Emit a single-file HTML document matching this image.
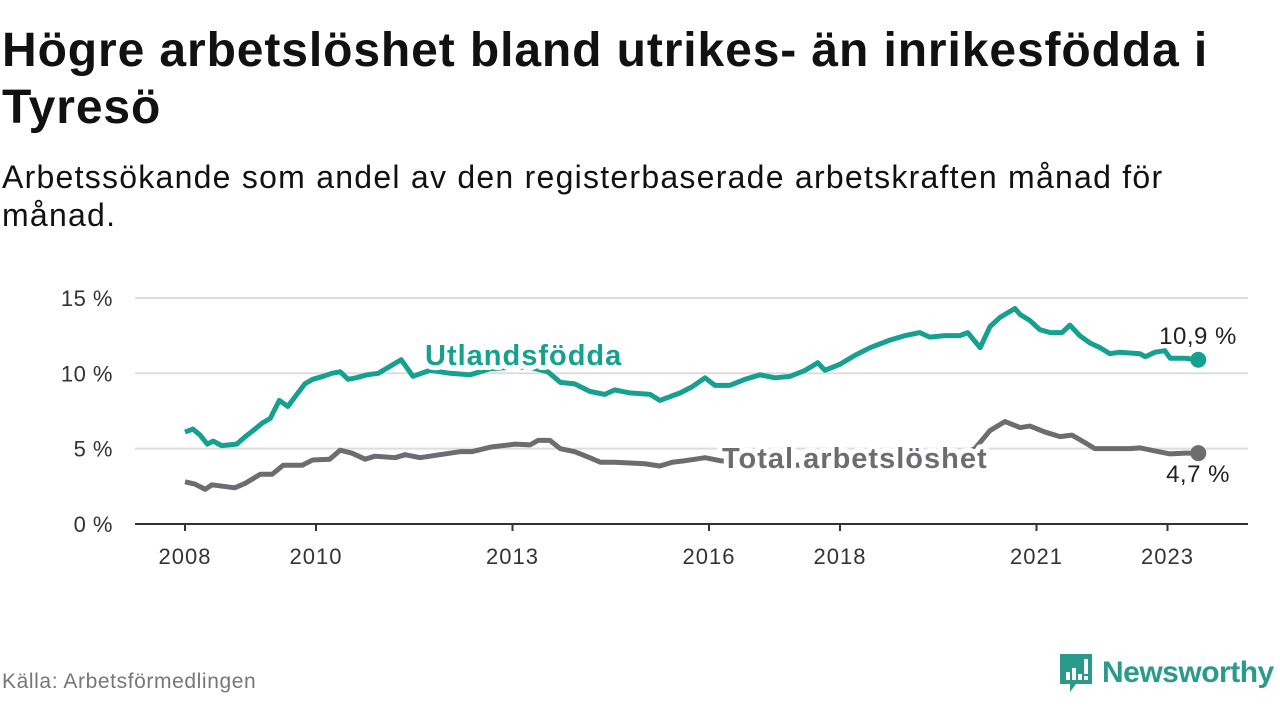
<!DOCTYPE html>
<html><head><meta charset="utf-8"><style>
body{margin:0;background:#fff;width:1280px;height:720px;overflow:hidden;font-family:"Liberation Sans",sans-serif}
.title{position:absolute;left:2px;top:22px;font-size:48px;font-weight:bold;color:#111;line-height:57px;width:1280px;white-space:nowrap;letter-spacing:0.9px}
.sub{position:absolute;left:2px;top:158px;font-size:32px;color:#111;line-height:38px;width:1280px;white-space:nowrap;letter-spacing:1.25px}
.src{position:absolute;left:2px;top:670px;font-size:21px;color:#777;letter-spacing:0.6px}
.logo{position:absolute;left:1058px;top:652px;display:flex;align-items:center;gap:8px}
.logo span{font-size:30px;color:#2a9a8c;font-weight:bold;letter-spacing:-0.5px}
</style></head><body>
<div class="title">Högre arbetslöshet bland utrikes- än inrikesfödda i<br>Tyresö</div>
<div class="sub">Arbetssökande som andel av den registerbaserade arbetskraften månad för<br>månad.</div>
<svg id="chart" width="1280" height="720" style="position:absolute;left:0;top:0" xmlns="http://www.w3.org/2000/svg"></svg>
<div class="src">Källa: Arbetsförmedlingen</div>
<div class="logo">
<svg width="36" height="42" viewBox="0 0 36 42"><path d="M2 2h32v30H18l-6 8v-8H2z" fill="#2a9a8c"/><rect x="8" y="20" width="4" height="8" fill="#fff"/><rect x="14" y="16" width="4" height="12" fill="#fff"/><rect x="20" y="22" width="4" height="6" fill="#fff"/><rect x="26" y="7" width="4" height="15" fill="#fff"/><rect x="26" y="24" width="4" height="4" fill="#fff"/></svg>
<span>Newsworthy</span></div>
<script>
const yTicks=[0,5,10,15];
const tickLabels=["0 %","5 %","10 %","15 %"];
const xTicks=[2008,2010,2013,2016,2018,2021,2023];
const utlDates=[0,.12,.23,.34,.43,.56,.79,.92,1.04,1.18,1.30,1.44,1.57,1.69,1.83,1.95,2.11,2.24,2.37,2.49,2.61,2.78,2.95,3.30,3.48,3.74,4.05,4.35,4.66,4.96,5.27,5.54,5.73,5.95,6.18,6.41,6.56,6.79,7.10,7.25,7.56,7.74,7.94,8.09,8.32,8.55,8.78,9.01,9.24,9.47,9.66,9.77,10.0,10.23,10.46,10.76,10.99,11.22,11.37,11.60,11.83,11.95,12.14,12.29,12.44,12.67,12.75,12.90,13.05,13.21,13.39,13.51,13.66,13.82,13.97,14.12,14.27,14.58,14.66,14.81,14.96,15.04,15.27,15.47];
const utlValues=[6.1,6.3,5.9,5.3,5.5,5.2,5.3,5.8,6.2,6.7,7.0,8.2,7.8,8.5,9.3,9.6,9.8,10.0,10.1,9.6,9.7,9.9,10.0,10.9,9.8,10.2,10.0,9.9,10.3,10.4,10.4,10.1,9.4,9.3,8.8,8.6,8.9,8.7,8.6,8.2,8.7,9.1,9.7,9.2,9.2,9.6,9.9,9.7,9.8,10.2,10.7,10.2,10.6,11.2,11.7,12.2,12.5,12.7,12.4,12.5,12.5,12.7,11.7,13.1,13.7,14.3,13.9,13.5,12.9,12.7,12.7,13.2,12.5,12.0,11.7,11.3,11.4,11.3,11.1,11.4,11.5,11.0,11.0,10.9];
const totDates=[0,.15,.31,.41,.76,.92,1.15,1.33,1.50,1.79,1.95,2.21,2.37,2.55,2.75,2.90,3.21,3.36,3.59,3.89,4.20,4.38,4.66,5.04,5.27,5.39,5.57,5.73,5.95,6.18,6.34,6.56,6.79,7.02,7.25,7.44,7.63,7.79,7.94,8.17,8.78,9.39,10.15,10.92,11.68,12.06,12.29,12.52,12.75,12.90,13.13,13.36,13.54,13.74,13.89,14.20,14.43,14.58,14.81,15.04,15.27,15.47];
const totValues=[2.8,2.65,2.3,2.6,2.4,2.7,3.3,3.3,3.9,3.9,4.25,4.3,4.9,4.7,4.3,4.5,4.4,4.6,4.4,4.6,4.8,4.8,5.1,5.3,5.25,5.55,5.55,5.0,4.8,4.4,4.1,4.1,4.05,4.0,3.85,4.1,4.2,4.3,4.4,4.2,4.0,3.9,3.8,3.9,4.3,5.0,6.2,6.8,6.4,6.5,6.1,5.8,5.9,5.4,5.0,5.0,5.0,5.05,4.85,4.65,4.7,4.7];
const svg=document.getElementById('chart');
const NS='http://www.w3.org/2000/svg';
const x=t=>185+t*65.5;
const y=v=>524-v*15.07;
function mk(tag,attrs,parent){const e=document.createElementNS(NS,tag);for(const k in attrs)e.setAttribute(k,attrs[k]);(parent||svg).appendChild(e);return e;}
yTicks.forEach((v,i)=>{
  if(v>0){const g=mk('line',{x1:135,x2:1248,y1:y(v),y2:y(v),stroke:'#ddd','stroke-width':2});
  
  }
  const t=mk('text',{x:113,y:y(v)+8,'text-anchor':'end','font-size':22,fill:'#333','letter-spacing':0.5,'font-family':'Liberation Sans, sans-serif'});
  t.textContent=tickLabels[i];
  
  
});
const ax=mk('line',{x1:135,x2:1248,y1:524,y2:524,stroke:'#333','stroke-width':2});


xTicks.forEach(yr=>{
  const xx=x(yr-2008);
  const tk=mk('line',{x1:xx,x2:xx,y1:524,y2:531,stroke:'#333','stroke-width':2});
  
  
  const t=mk('text',{x:xx,y:564,'text-anchor':'middle','font-size':22,fill:'#333','letter-spacing':1,'font-family':'Liberation Sans, sans-serif'});
  t.textContent=yr;
  
  
});
function line(d,v,col,name){
  const p=mk('polyline',{points:d.map((t,i)=>x(t)+','+y(v[i])).join(' '),fill:'none',stroke:col,'stroke-width':5,'stroke-linejoin':'round'});
  
  
  const c=mk('circle',{cx:x(d[d.length-1]),cy:y(v[v.length-1]),r:8,fill:col});
  
  
}
line(totDates,totValues,'#6d6c71','total-line');
line(utlDates,utlValues,'#16a090','utlandsfodda-line');
function lab(txt,xx,yy,col,size,bold,anchor,ls,name){
  const t=mk('text',{x:xx,y:yy,fill:col,'font-size':size,'font-weight':bold?'bold':'normal','text-anchor':anchor,'letter-spacing':ls,stroke:'#fff','stroke-width':bold?10:6,'paint-order':'stroke','stroke-linejoin':'round','font-family':'Liberation Sans, sans-serif'});
  t.textContent=txt;
  
  
}
lab('Utlandsfödda',425,365,'#16a090',29,true,'start',1,'utlandsfodda-label');
lab('Total arbetslöshet',722,468,'#6d6c71',29,true,'start',1,'total-label');
lab('10,9 %',1198,344,'#222',24,false,'middle',0.5,'utlandsfodda-end-value');
lab('4,7 %',1198,482,'#222',24,false,'middle',0.5,'total-end-value');
</script>
</body></html>
